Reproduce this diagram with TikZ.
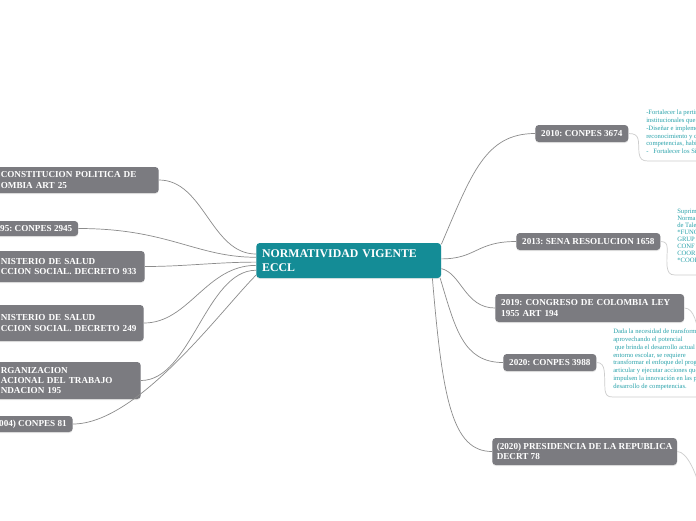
\documentclass[tikz,border=0pt]{standalone}
\usepackage{fontspec}
\setmainfont{Liberation Serif}
\usetikzlibrary{shadows}
\definecolor{hubF}{RGB}{20,140,150}
\definecolor{boxF}{RGB}{123,123,128}
\definecolor{noteT}{RGB}{40,162,170}
\definecolor{linkC}{RGB}{140,140,140}
\definecolor{noteL}{RGB}{205,205,205}
\frenchspacing

\begin{document}
\begin{tikzpicture}[
  x=0.025cm, y=-0.025cm,
  topic/.style={fill=boxF, text=white, rounded corners=2.5pt, inner xsep=4.2pt, inner ysep=0pt,
    font=\bfseries\fontsize{6.5}{7.2}\selectfont, align=left,
    drop shadow={opacity=0.18, shadow xshift=0pt, shadow yshift=-0.8pt}},
  root/.style={topic, fill=hubF, font=\bfseries\fontsize{8.4}{10}\selectfont},
  note/.style={text=noteT, inner sep=0pt, align=left, font=\fontsize{4.7}{5.5}\selectfont},
  link/.style={draw=linkC, line width=0.5pt},
  noteline/.style={draw=noteL, line width=0.5pt},
]
\useasboundingbox (0,0) rectangle (696,520);
\clip (0,0) rectangle (696,520);
\fill[white] (0,0) rectangle (696,520);

% ---- central topic ----
\node[root, anchor=west, text width=4.325cm, minimum height=0.875cm] (hub) at (256,260.5) {NORMATIVIDAD VIGENTE\\ECCL};

% ---- left branches ----
\node[topic, anchor=east, text width=3.8cm, minimum height=0.65cm]   (cpol)   at (159,180)   {CONSTITUCION POLITICA DE\\OMBIA ART 25};
\node[topic, anchor=west, minimum height=0.375cm]                   (cp2945) at (-6,228.5)  {95: CONPES 2945};
\node[topic, anchor=east, text width=3.45cm, minimum height=0.775cm] (ms933)  at (145,266.5) {NISTERIO DE SALUD\\CCION SOCIAL. DECRETO 933};
\node[topic, anchor=east, text width=3.425cm, minimum height=0.9cm]  (ms249)  at (144,323)   {NISTERIO DE SALUD\\CCION SOCIAL. DECRETO 249};
\node[topic, anchor=east, text width=3.35cm, minimum height=0.925cm] (oit)    at (141,380.5) {RGANIZACION\\ACIONAL DEL TRABAJO\\NDACION 195};
\node[topic, anchor=west, minimum height=0.4cm]                     (cp81)   at (-7,424)    {004) CONPES 81};

% ---- right branches ----
\node[topic, anchor=west, align=center, minimum width=2.25cm, minimum height=0.425cm] (cp3674) at (535,133.5) {2010: CONPES 3674};
\node[topic, anchor=west, align=center, minimum width=3.5cm, minimum height=0.425cm]  (sena)   at (516,241.5) {2013: SENA RESOLUCION 1658};
\node[topic, anchor=west, text width=4.425cm, minimum height=0.7cm]   (ley)    at (495,308)   {2019: CONGRESO DE COLOMBIA LEY\\1955 ART 194};
\node[topic, anchor=west, align=center, minimum width=2.25cm, minimum height=0.425cm] (cp3988) at (503,362.5) {2020: CONPES 3988};
\node[topic, anchor=west, inner xsep=3.2pt, minimum height=0.675cm] (dec78) at (492,451.5) {(2020) PRESIDENCIA DE LA REPUBLICA\\DECRT 78};

% ---- connectors ----
\draw[link] (cpol.east)   .. controls +(45,0) and +(-45,0) .. (hub.176);
\draw[link] (cp2945.east) .. controls +(90,0) and +(-60,0) .. (hub.178.5);
\draw[link] (ms933.east)  .. controls +(40,0) and +(-40,0) .. (hub.181);
\draw[link] (ms249.east)  .. controls +(45,0) and +(-50,0) .. (hub.183.5);
\draw[link] (oit.east)    .. controls +(50,0) and +(-50,0) .. (hub.186);
\draw[link] (cp81.east)   .. controls +(65,0) and +(-35,35) .. (hub.189);
\draw[link] (hub.10)  .. controls +(30,-70) and +(-50,0) .. (cp3674.west);
\draw[link] (hub.1)   .. controls +(35,0) and +(-40,0) .. (sena.west);
\draw[link] (hub.-5)  .. controls +(20,5) and +(-30,0) .. (ley.west);
\draw[link] (hub.-11) .. controls +(15,50) and +(-40,0) .. (cp3988.west);
\draw[link] (hub.-12) .. controls +(10,120) and +(-40,0) .. (dec78.west);

% ---- notes ----
\node[note, anchor=north west] (n1) at (646,110) {-Fortalecer la pertin\\institucionales que\\-Diseñar e impleme\\reconocimiento y c\\competencias, habi\\-\ \ \ Fortalecer los Si};
\node[note, anchor=north west, font=\fontsize{4.7}{4.95}\selectfont] (n2) at (677,209) {Suprim\\Norma\\de Tale\\*FUNC\\GRUP\\CONF\\COOR\\*COOR};
\node[note, anchor=north west] (n4) at (613,329) {Dada la necesidad de transform\\aprovechando el potencial\\\ que brinda el desarrollo actual d\\entorno escolar, se requiere\\transformar el enfoque del prog\\articular y ejecutar acciones que\\impulsen la innovación en las p\\desarrollo de competencias.};

\coordinate (n1a) at (639,153);
\coordinate (n1b) at (648,161);
\coordinate (n1c) at (700,161);
\coordinate (n2a) at (667,266);
\coordinate (n2b) at (675,275);
\coordinate (n2c) at (700,275);
\coordinate (n3a) at (700,340);
\coordinate (n4a) at (605,390);
\coordinate (n4b) at (613,397);
\coordinate (n4c) at (700,397);
\coordinate (n5a) at (700,490);

\draw[noteline] (cp3674.east) .. controls +(12,0) and +(-1,-12) .. (n1a) .. controls +(1,6) and +(-6,0) .. (n1b) -- (n1c);
\draw[noteline] (sena.east) .. controls +(10,0) and +(-1,-15) .. (n2a) .. controls +(1,6) and +(-6,0) .. (n2b) -- (n2c);
\draw[noteline] (ley.east) .. controls +(10,0) and +(-3,-15) .. (n3a);
\draw[noteline] (cp3988.east) .. controls +(10,0) and +(-1,-15) .. (n4a) .. controls +(1,5) and +(-6,0) .. (n4b) -- (n4c);
\draw[noteline] (dec78.east) .. controls +(10,0) and +(-3,-15) .. (n5a);

\end{tikzpicture}
\end{document}
